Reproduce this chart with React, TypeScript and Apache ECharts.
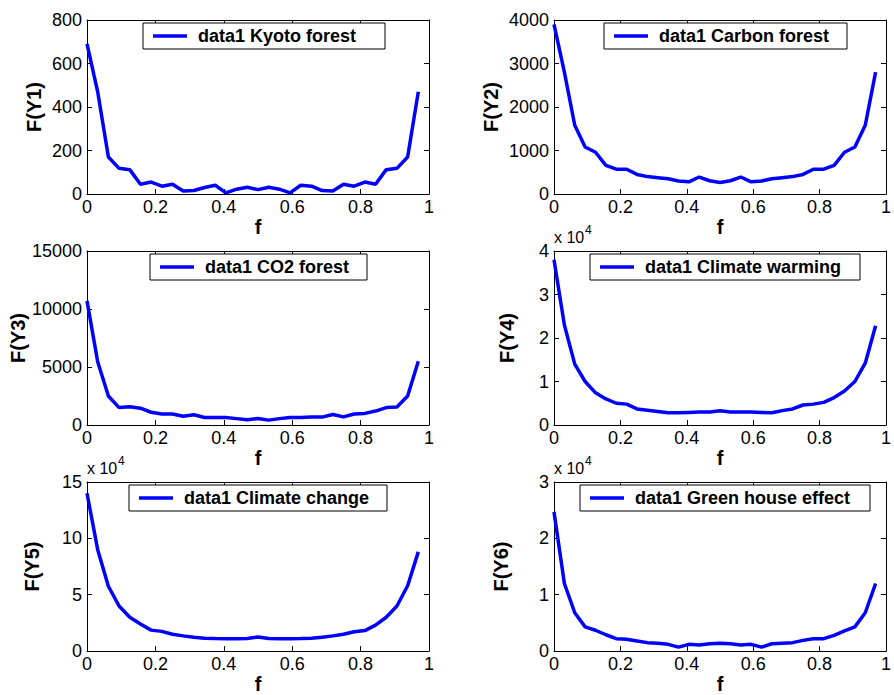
import React, { useEffect, useRef } from "react";
import * as echarts from "echarts";

// Normalised frequency f (x values shared by all six panels)
const fValues = [
  0, 0.03125, 0.0625, 0.09375, 0.125, 0.15625, 0.1875, 0.21875, 0.25, 0.28125,
  0.3125, 0.34375, 0.375, 0.40625, 0.4375, 0.46875, 0.5, 0.53125, 0.5625,
  0.59375, 0.625, 0.65625, 0.6875, 0.71875, 0.75, 0.78125, 0.8125, 0.84375,
  0.875, 0.90625, 0.9375, 0.96875,
];

// F(Y1) .. F(Y6) (panels 4-6 are in units of 10^4)
const kyotoForest = [
  690, 470, 170, 118, 112, 45, 55, 36, 45, 14, 16, 30, 40, 5, 22, 31, 20, 31,
  22, 5, 40, 36, 16, 14, 45, 36, 55, 45, 112, 118, 170, 470,
];
const carbonForest = [
  3900, 2800, 1580, 1080, 960, 660, 570, 570, 450, 400, 375, 350, 300, 280, 390,
  305, 265, 305, 390, 280, 300, 350, 375, 400, 450, 570, 570, 660, 960, 1080,
  1580, 2800,
];
const co2Forest = [
  10700, 5450, 2500, 1500, 1580, 1450, 1100, 950, 950, 750, 880, 650, 650, 650,
  550, 450, 560, 420, 550, 650, 650, 700, 680, 900, 700, 950, 1000, 1200, 1500,
  1550, 2500, 5500,
];
const climateWarming = [
  3.8, 2.3, 1.4, 1.0, 0.74, 0.6, 0.5, 0.48, 0.37, 0.34, 0.31, 0.28, 0.28, 0.29,
  0.3, 0.3, 0.33, 0.3, 0.3, 0.3, 0.29, 0.28, 0.33, 0.37, 0.46, 0.48, 0.52, 0.63,
  0.78, 1.0, 1.42, 2.28,
];
const climateChange = [
  14, 9.0, 5.75, 4.0, 3.0, 2.4, 1.86, 1.75, 1.5, 1.35, 1.23, 1.15, 1.12, 1.1,
  1.1, 1.12, 1.25, 1.12, 1.1, 1.1, 1.12, 1.15, 1.23, 1.35, 1.5, 1.72, 1.82, 2.3,
  3.0, 4.0, 5.8, 8.8,
];
const greenHouseEffect = [
  2.47, 1.2, 0.68, 0.43, 0.37, 0.29, 0.22, 0.21, 0.18, 0.15, 0.14, 0.12, 0.07,
  0.12, 0.11, 0.13, 0.14, 0.13, 0.11, 0.12, 0.07, 0.13, 0.14, 0.15, 0.19, 0.22,
  0.22, 0.28, 0.36, 0.43, 0.68, 1.2,
];

const seriesValues = [
  kyotoForest,
  carbonForest,
  co2Forest,
  climateWarming,
  climateChange,
  greenHouseEffect,
];
const seriesNames = [
  "data1 Kyoto forest",
  "data1 Carbon forest",
  "data1 CO2 forest",
  "data1 Climate warming",
  "data1 Climate change",
  "data1 Green house effect",
];
const yAxisLabels = ["F(Y1)", "F(Y2)", "F(Y3)", "F(Y4)", "F(Y5)", "F(Y6)"];
const xAxisLabel = "f";
const yMaxes = [800, 4000, 15000, 4, 15, 3];
const yIntervals = [200, 1000, 5000, 1, 5, 1];
const xMin = 0;
const xMax = 1;
const xInterval = 0.2;
const exponentPanels = [3, 4, 5];
const exponentBase = "x 10";
const exponentPower = "4";

// layout (pixels)
const layout = [
  { left: 87, top: 20, legL: 143, legR: 385, nameGap: 43 },
  { left: 554, top: 20, legL: 604, legR: 847, nameGap: 53 },
  { left: 87, top: 251, legL: 150, legR: 367, nameGap: 54 },
  { left: 554, top: 251, legL: 590, legR: 860, nameGap: 37 },
  { left: 87, top: 482, legL: 129, legR: 387, nameGap: 45 },
  { left: 554, top: 482, legL: 580, legR: 870, nameGap: 43 },
];
const PLOT_W = 342;
const PLOT_H = 174;
const FONT = "'Liberation Sans', Arial, Helvetica, sans-serif";
const BLUE = "#0000ff";

function measure(text: string, font: string): number {
  const c = document.createElement("canvas");
  const ctx = c.getContext("2d");
  if (!ctx) return text.length * 10;
  ctx.font = font;
  return ctx.measureText(text).width;
}

export default function App() {
  const ref = useRef<HTMLDivElement>(null);

  useEffect(() => {
    if (!ref.current) return;
    const chart = echarts.init(ref.current, undefined, { renderer: "svg" });

    const grids: any[] = [];
    const xAxes: any[] = [];
    const yAxes: any[] = [];
    const series: any[] = [];
    const legends: any[] = [];
    const graphics: any[] = [];

    const tickCommon = { inside: true, length: 5, lineStyle: { color: "#000" } };
    const lineCommon = { show: true, onZero: false, lineStyle: { color: "#000", width: 1 } };
    const plain = (v: number) => `${v}`;

    layout.forEach((L, i) => {
      grids.push({ left: L.left, top: L.top, width: PLOT_W, height: PLOT_H, containLabel: false });
      xAxes.push({
        type: "value",
        gridIndex: i,
        position: "bottom",
        min: xMin,
        max: xMax,
        interval: xInterval,
        axisLine: lineCommon,
        axisTick: tickCommon,
        splitLine: { show: false },
        axisLabel: {
          color: "#000",
          fontSize: 18,
          fontFamily: FONT,
          margin: 4,
          formatter: plain,
          showMinLabel: true,
          showMaxLabel: true,
        },
        name: xAxisLabel,
        nameLocation: "middle",
        nameGap: 17,
        nameTextStyle: { color: "#000", fontSize: 20, fontWeight: "bold", fontFamily: FONT },
      });
      xAxes.push({
        type: "value",
        gridIndex: i,
        position: "top",
        min: xMin,
        max: xMax,
        interval: xInterval,
        axisLine: lineCommon,
        axisTick: tickCommon,
        splitLine: { show: false },
        axisLabel: { show: false },
      });
      yAxes.push({
        type: "value",
        gridIndex: i,
        position: "left",
        min: 0,
        max: yMaxes[i],
        interval: yIntervals[i],
        axisLine: lineCommon,
        axisTick: tickCommon,
        splitLine: { show: false },
        axisLabel: {
          color: "#000",
          fontSize: 18,
          fontFamily: FONT,
          margin: 5,
          formatter: plain,
          showMinLabel: true,
          showMaxLabel: true,
        },
        name: yAxisLabels[i],
        nameLocation: "middle",
        nameGap: L.nameGap,
        nameTextStyle: { color: "#000", fontSize: 20, fontWeight: "bold", fontFamily: FONT },
      });
      yAxes.push({
        type: "value",
        gridIndex: i,
        position: "right",
        min: 0,
        max: yMaxes[i],
        interval: yIntervals[i],
        axisLine: lineCommon,
        axisTick: tickCommon,
        splitLine: { show: false },
        axisLabel: { show: false },
      });
      series.push({
        type: "line",
        name: seriesNames[i],
        xAxisIndex: 2 * i,
        yAxisIndex: 2 * i,
        data: fValues.map((x, k) => [x, seriesValues[i][k]]),
        symbol: "none",
        showSymbol: false,
        lineStyle: { color: BLUE, width: 3.5 },
        itemStyle: { color: BLUE },
      });
      const tw = measure(seriesNames[i], `bold 18px ${FONT}`);
      const padRight = Math.max(4, L.legR - L.legL - 55 - tw);
      legends.push({
        data: [{ name: seriesNames[i], icon: "rect" }],
        left: L.legL,
        top: L.top + 3,
        orient: "horizontal",
        selectedMode: false,
        backgroundColor: "#fff",
        borderColor: "#000",
        borderWidth: 1,
        borderRadius: 0,
        padding: [4, padRight, 4, 10],
        itemWidth: 34,
        itemHeight: 3.5,
        textStyle: {
          color: "#000",
          fontSize: 18,
          fontWeight: "bold",
          fontFamily: FONT,
          padding: [0, 0, 0, 6],
        },
      });
      if (exponentPanels.includes(i)) {
        graphics.push({
          type: "text",
          left: L.left,
          top: L.top - 22,
          style: { text: exponentBase, fontSize: 16, fontFamily: FONT, fill: "#000" },
        });
        graphics.push({
          type: "text",
          left: L.left + 31,
          top: L.top - 27,
          style: { text: exponentPower, fontSize: 12, fontFamily: FONT, fill: "#000" },
        });
      }
    });

    chart.setOption({
      animation: false,
      backgroundColor: "#fff",
      grid: grids,
      xAxis: xAxes,
      yAxis: yAxes,
      series,
      legend: legends,
      graphic: graphics,
    });

    return () => chart.dispose();
  }, []);

  return (
    <div
      ref={ref}
      style={{ position: "fixed", left: 0, top: 0, width: 894, height: 695, background: "#fff" }}
    />
  );
}
